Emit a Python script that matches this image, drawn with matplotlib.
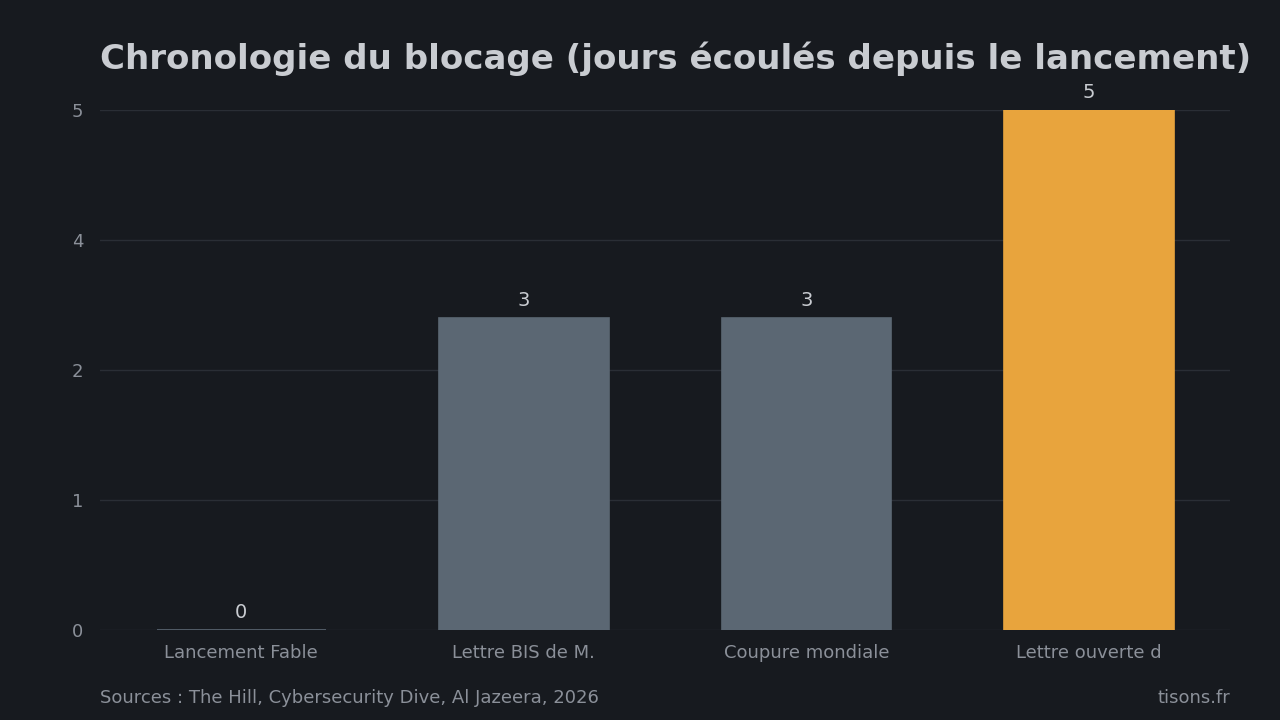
import numpy as np
import matplotlib.pyplot as plt
from matplotlib.ticker import FuncFormatter

plt.rcParams['font.family'] = ['DejaVu Sans']

# données
categories = ['Lancement Fable', 'Lettre BIS de M.', 'Coupure mondiale', 'Lettre ouverte d']
jours = [0, 3, 3, 5]
bar_colors = ['#5b6773', '#5b6773', '#5b6773', '#e8a43d']

bg = '#171a1f'
grid_col = '#2a2e35'
txt_col = '#c9ccd1'
tick_col = '#8b9099'

fig = plt.figure(figsize=(12.8, 7.2), dpi=100, facecolor=bg)
ax = fig.add_axes([100 / 1280, 90 / 720, 1130 / 1280, 520 / 720], facecolor=bg)

x = np.arange(len(categories))
bars = ax.bar(x, jours, width=0.6, color=bar_colors, edgecolor=bar_colors, linewidth=1.2, zorder=3)

# étiquettes de valeur
for xi, v in zip(x, jours):
    ax.text(xi, v + 0.08, f'{v}', ha='center', va='bottom', fontsize=14, color=txt_col, zorder=4)

ax.set_xlim(-0.5, 3.5)
ax.set_ylim(0, 5)
ax.set_yticks(np.linspace(0, 5, 5))
ax.yaxis.set_major_formatter(FuncFormatter(lambda v, p: f'{v:.0f}'))
ax.set_xticks(x)
ax.set_xticklabels(categories)

ax.grid(axis='y', color=grid_col, linewidth=1, zorder=0)
ax.tick_params(axis='both', length=0, labelsize=13, colors=tick_col)
ax.tick_params(axis='x', pad=10)
ax.tick_params(axis='y', pad=12)
for s in ax.spines.values():
    s.set_visible(False)

fig.text(100 / 1280, 1 - 59 / 720, 'Chronologie du blocage (jours écoulés depuis le lancement)',
         ha='left', va='center', fontsize=24.5, fontweight='bold', color=txt_col)
fig.text(100 / 1280, 1 - 698 / 720, 'Sources : The Hill, Cybersecurity Dive, Al Jazeera, 2026',
         ha='left', va='center', fontsize=13, color=tick_col)
fig.text(1230 / 1280, 1 - 698 / 720, 'tisons.fr',
         ha='right', va='center', fontsize=13, color=tick_col)

fig.savefig('out.png', dpi=100, facecolor=bg)
